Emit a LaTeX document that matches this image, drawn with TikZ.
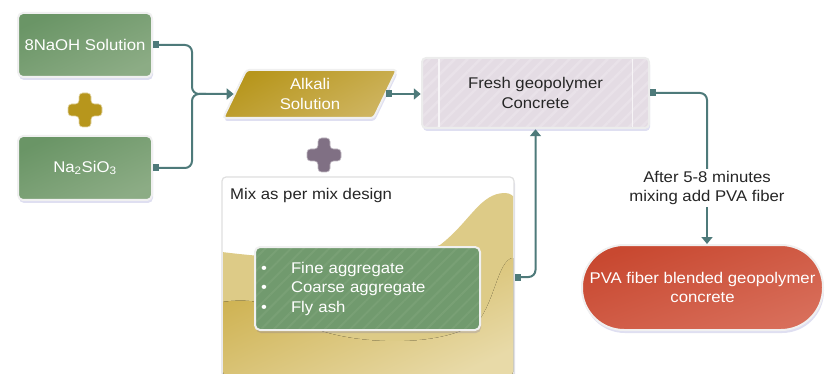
\documentclass[tikz,border=0pt]{standalone}
\usepackage{fontspec}
\setmainfont{Liberation Sans}[FakeStretch=1.08]
\usetikzlibrary{arrows.meta,shapes.geometric,shadows,patterns.meta}
\definecolor{boxgreen}{RGB}{106,149,102}
\definecolor{boxgreenlt}{RGB}{140,172,133}
\definecolor{alkgold}{RGB}{183,150,28}
\definecolor{alkgoldlt}{RGB}{206,180,95}
\definecolor{freshfill}{RGB}{228,220,228}
\definecolor{pvared}{RGB}{200,72,48}
\definecolor{pvaredlt}{RGB}{216,110,90}
\definecolor{linkteal}{RGB}{78,122,122}
\definecolor{plusgold}{RGB}{183,150,28}
\definecolor{plusmauve}{RGB}{128,112,132}
\definecolor{wavelight}{RGB}{221,203,135}
\definecolor{wavedark}{RGB}{205,176,77}
\definecolor{wavecream}{RGB}{232,218,168}

\begin{document}
\begin{tikzpicture}[x=1pt, y=-1pt, font=\fontsize{15.5}{19.5}\selectfont,
    shadowed/.style={drop shadow={shadow xshift=1pt, shadow yshift=-3pt, opacity=0.18, fill=blue!40!gray}},
    greenbox/.style={rectangle, rounded corners=5pt, draw=gray!12, line width=2pt, shadowed,
        top color=boxgreen, middle color=boxgreen, bottom color=boxgreenlt, shading angle=25,
        text=white, minimum width=134, minimum height=64},
    alkbox/.style={trapezium, trapezium left angle=72, trapezium right angle=108, trapezium stretches=true,
        rounded corners=3pt, draw=gray!12, line width=2pt, shadowed,
        top color=alkgold, middle color=alkgold, bottom color=alkgoldlt, shading angle=30,
        text=white, align=center, minimum width=174, minimum height=48},
    freshbox/.style={rectangle, rounded corners=4pt, draw=gray!15, line width=2pt, shadowed,
        preaction={fill=freshfill}, pattern={Lines[angle=45,distance=9pt,line width=2.5pt]},
        pattern color=white!18!freshfill, text=black!85, align=center},
    mixbox/.style={rectangle, rounded corners=4pt, draw=gray!25, line width=1.2pt, fill=white, shadowed},
    aggrbox/.style={rectangle, rounded corners=5pt, draw=gray!12, line width=2pt, shadowed,
        preaction={fill=boxgreen!95!white}, pattern={Lines[angle=45,distance=9pt,line width=2pt]},
        pattern color=boxgreen!90!white, text=white, align=left, inner xsep=6pt},
    pvabox/.style={rectangle, rounded corners=42pt, draw=gray!12, line width=2pt, shadowed,
        top color=pvared, middle color=pvared, bottom color=pvaredlt, shading angle=20,
        text=white, align=center, inner xsep=0pt},
    link/.style={draw=linkteal, line width=2pt, rounded corners=7pt,
        arrows={Square[length=6pt,width=7pt]-Triangle[length=7pt,width=11pt]}},
    linkstart/.style={draw=linkteal, line width=2pt, rounded corners=7pt, arrows={Square[length=6pt,width=7pt]-}},
    linkend/.style={draw=linkteal, line width=2pt, arrows={-Triangle[length=7pt,width=11pt]}},
    plusmark/.pic={
        \path[pic actions, rounded corners=3.5pt] (-6,-17) -- (6,-17) -- (6,-6) -- (17,-6) -- (17,6)
            -- (6,6) -- (6,17) -- (-6,17) -- (-6,6) -- (-17,6) -- (-17,-6) -- (-6,-6) -- cycle;
    }]
    \useasboundingbox (0,0) rectangle (827,374);

    % Solution boxes
    \node[greenbox] (naoh) at (85,45) {8NaOH Solution};
    \node[greenbox] (sil) at (85,168) {Na\textsubscript{2}SiO\textsubscript{3}};
    \pic[fill=plusgold, draw=white!60!plusgold, line width=0.6pt] at (85,110) {plusmark};

    % Alkali solution and fresh concrete
    \node[alkbox] (alkali) at (310,94) {Alkali\\Solution};
    \pic[fill=plusmauve, draw=white!50!plusmauve, line width=0.6pt] at (324,155) {plusmark};
    \node[freshbox, minimum width=227, minimum height=70] (fresh) at (535.5,93) {Fresh geopolymer\\Concrete};
    \draw[white!70!freshfill, line width=1.5pt] ([xshift=18pt,yshift=-2pt]fresh.north west) -- ([xshift=18pt,yshift=2pt]fresh.south west);
    \draw[white!70!freshfill, line width=1.5pt] ([xshift=-18pt,yshift=-2pt]fresh.north east) -- ([xshift=-18pt,yshift=2pt]fresh.south east);

    % Mix design box
    \node[mixbox, minimum width=292, minimum height=200] (mix) at (368,277) {};
    \begin{scope}
        \clip[rounded corners=4pt] (223,178) rectangle (513,376);
        \fill[wavelight] (222,252) .. controls (300,262) and (400,262) .. (440,245)
            .. controls (470,222) and (480,193) .. (505,193) .. controls (510,193) and (514,196) .. (516,200)
            -- (516,380) -- (222,380) -- cycle;
        \fill[top color=wavedark, middle color=wavedark, bottom color=wavecream, shading angle=25] (222,302)
            .. controls (250,298) and (275,302) .. (300,322) .. controls (340,345) and (440,350) .. (478,322)
            .. controls (495,300) and (498,262) .. (512,258) -- (516,258) -- (516,380) -- (222,380) -- cycle;
    \end{scope}
    \node[anchor=west, inner sep=0pt, text=black!85] (mixlbl) at (230,195) {Mix as per mix design};
    \node[aggrbox, minimum width=225, minimum height=83, text width=213] (aggr) at (367.5,288.5)
        {\makebox[30pt][l]{\textbullet}Fine aggregate\\
         \makebox[30pt][l]{\textbullet}Coarse aggregate\\
         \makebox[30pt][l]{\textbullet}Fly ash};

    % Final product
    \node[pvabox, minimum width=241, minimum height=85] (pva) at (702.5,287.5) {PVA fiber blended geopolymer\\concrete};
    \node[fill=white, align=center, inner sep=2pt, text=black!85] (note) at (707,188) {After 5-8 minutes\\mixing add PVA fiber};

    % Connections
    \coordinate (jn) at (192,94);
    \draw[link] (naoh.east) -| (jn) -- (jn -| alkali.west);
    \draw[linkstart] (sil.east) -| (jn) -- ++(14,0);
    \draw[link] (alkali.east) -- (alkali.east -| fresh.west);
    \draw[link] (mix.east) -| (fresh.south);
    \draw[linkstart] (fresh.east) -| (note.north);
    \draw[linkend] (note.south) -- (note.south |- pva.north);
\end{tikzpicture}
\end{document}
